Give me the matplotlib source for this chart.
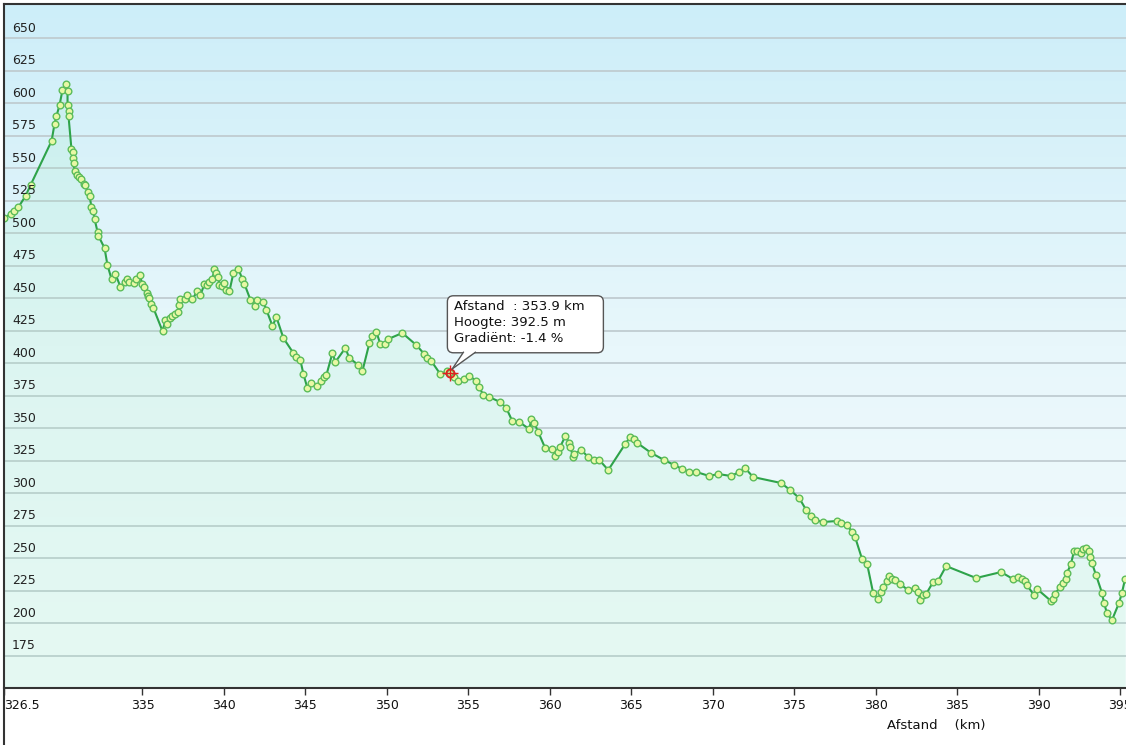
import numpy as np
import matplotlib
matplotlib.use("Agg")
import matplotlib.pyplot as plt
import matplotlib.colors as mcolors
from matplotlib.lines import Line2D
from matplotlib.patches import FancyBboxPatch, Polygon

# distance (km) and height (m)
afstand = [326.50, 326.90, 327.09, 327.39, 327.82, 328.13, 329.42, 329.60, 329.72, 329.91,
           330.09, 330.28, 330.40, 330.40, 330.46, 330.46, 330.64, 330.71, 330.71, 330.77,
           330.83, 331.01, 331.13, 331.20, 331.38, 331.50, 331.63, 331.75, 331.87, 331.99,
           332.06, 332.24, 332.30, 332.67, 332.85, 333.10, 333.34, 333.65, 333.90, 334.08,
           334.20, 334.51, 334.63, 334.82, 335.00, 335.12, 335.25, 335.31, 335.43, 335.55,
           335.67, 336.23, 336.41, 336.53, 336.72, 336.84, 337.02, 337.21, 337.27, 337.33,
           337.58, 337.76, 338.07, 338.37, 338.56, 338.80, 338.99, 339.11, 339.29, 339.42,
           339.54, 339.66, 339.72, 339.91, 340.03, 340.15, 340.34, 340.58, 340.89, 341.13,
           341.26, 341.63, 341.93, 342.06, 342.42, 342.61, 342.98, 343.22, 343.65, 344.26,
           344.45, 344.69, 344.88, 345.12, 345.37, 345.74, 345.98, 346.17, 346.29, 346.66,
           346.84, 347.45, 347.70, 348.25, 348.50, 348.93, 349.11, 349.36, 349.60, 349.91,
           350.09, 350.95, 351.81, 352.30, 352.48, 352.73, 353.28, 353.71, 353.90, 354.14,
           354.39, 354.75, 355.06, 355.49, 355.67, 355.92, 356.29, 356.96, 357.33, 357.70,
           358.13, 358.74, 358.87, 359.05, 359.29, 359.72, 360.15, 360.34, 360.52, 360.64,
           360.95, 361.20, 361.26, 361.44, 361.50, 361.93, 362.36, 362.73, 363.04, 363.59,
           364.63, 364.94, 365.18, 365.37, 366.23, 367.02, 367.64, 368.13, 368.56, 368.99,
           369.79, 370.34, 371.13, 371.63, 371.99, 372.48, 374.20, 374.75, 375.31, 375.74,
           376.04, 376.29, 376.78, 377.64, 377.88, 378.25, 378.56, 378.74, 379.17, 379.48,
           379.85, 380.15, 380.34, 380.46, 380.71, 380.83, 381.01, 381.20, 381.50, 381.99,
           382.42, 382.61, 382.73, 382.91, 383.10, 383.53, 383.83, 384.33, 386.17, 387.70,
           388.44, 388.74, 388.99, 389.17, 389.29, 389.72, 389.91, 390.77, 390.89, 391.01,
           391.32, 391.50, 391.69, 391.75, 391.99, 392.18, 392.36, 392.61, 392.73, 392.91,
           393.10, 393.16, 393.28, 393.53, 393.90, 394.02, 394.20, 394.51, 394.94, 395.12,
           395.31]
hoogte = [511.5, 514.6, 516.9, 520.0, 528.5, 536.9, 570.8, 583.8, 590.0, 598.5,
          610.0, 614.6, 609.2, 598.5, 593.8, 590.0, 564.6, 562.3, 557.7, 553.8,
          547.7, 544.6, 543.1, 541.5, 537.7, 536.9, 531.5, 528.5, 520.0, 516.9,
          510.8, 500.8, 497.7, 488.5, 475.4, 464.6, 468.5, 458.5, 462.3, 464.6,
          462.3, 461.5, 464.6, 467.7, 460.8, 458.5, 453.8, 451.5, 450.0, 445.4,
          442.3, 424.6, 433.1, 430.0, 434.6, 436.2, 437.7, 439.2, 444.6, 449.2,
          449.2, 452.3, 449.2, 455.4, 452.3, 460.8, 460.0, 462.3, 464.6, 472.3,
          469.2, 466.2, 460.0, 459.2, 461.5, 456.2, 455.4, 469.2, 472.3, 464.6,
          460.8, 448.5, 443.8, 448.5, 446.9, 440.8, 428.5, 435.4, 419.2, 407.7,
          404.6, 402.3, 391.5, 380.8, 384.6, 382.3, 386.2, 389.2, 390.8, 407.7,
          400.8, 411.5, 403.8, 398.5, 393.8, 415.4, 420.8, 423.8, 414.6, 414.6,
          418.5, 423.1, 413.8, 406.9, 403.8, 401.5, 391.5, 393.8, 392.5, 389.2,
          386.2, 387.7, 390.0, 386.2, 381.5, 375.4, 373.8, 370.0, 365.4, 355.4,
          354.6, 349.2, 356.9, 353.8, 346.9, 334.6, 333.8, 328.5, 331.5, 335.4,
          343.8, 338.5, 335.4, 327.7, 330.0, 333.1, 327.7, 325.4, 325.4, 317.7,
          337.7, 343.1, 341.5, 338.5, 330.8, 325.4, 321.5, 318.5, 316.2, 316.2,
          313.1, 314.6, 313.1, 316.2, 319.2, 312.3, 307.7, 302.3, 296.2, 286.9,
          282.3, 279.2, 277.7, 278.5, 276.9, 275.4, 270.0, 266.2, 249.2, 245.4,
          223.1, 218.5, 223.8, 227.7, 232.3, 236.2, 233.8, 233.1, 230.0, 225.4,
          226.9, 223.8, 217.7, 221.5, 222.3, 231.5, 232.3, 243.8, 234.6, 239.2,
          233.8, 235.4, 233.8, 232.3, 229.2, 221.5, 226.2, 216.9, 218.5, 222.3,
          227.7, 230.8, 233.8, 238.5, 245.4, 255.4, 255.4, 253.8, 256.9, 257.7,
          255.4, 250.8, 246.2, 236.9, 223.1, 215.4, 207.7, 202.3, 215.4, 223.1,
          233.8]

x_ticks = [326.5, 335, 340, 345, 350, 355, 360, 365, 370, 375, 380, 385, 390, 395]
y_ticks = [175, 200, 225, 250, 275, 300, 325, 350, 375, 400, 425, 450, 475, 500,
           525, 550, 575, 600, 625, 650]
tip_km, tip_m, tip_grad = 353.9, 392.5, -1.4

W, H = 1126, 745
fig = plt.figure(figsize=(W / 100, H / 100), dpi=100)
fig.patch.set_facecolor("white")
ax = fig.add_axes([4 / W, (H - 688) / H, (W - 4) / W, (688 - 4) / H])
xmin, xmax = 326.5, 395.37
ymin, ymax = 150, 676.2

# background gradient, light blue on top to nearly white at the bottom
bg = mcolors.LinearSegmentedColormap.from_list("bg", ["#f3fbfd", "#e8f7fb", "#cdeef9"])
grad = np.linspace(0, 1, 256).reshape(-1, 1)
ax.imshow(grad, cmap=bg, aspect="auto", origin="lower",
          extent=[xmin, xmax, ymin, ymax], zorder=0)

for v in y_ticks:
    ax.axhline(v, color="#c0ccd1", lw=1.3, zorder=1)
    ax.text(8 / (W - 4), v + 7.5, str(v), transform=ax.get_yaxis_transform(),
            ha="left", va="center", fontsize=9, color="#222222", zorder=5)

ax.fill_between(afstand, hoogte, ymin, color="#95eeb8", alpha=0.14, lw=0, zorder=2)
ax.plot(afstand, hoogte, color="#2ea34a", lw=1.5, zorder=3,
        marker="o", ms=4.8, mfc="#e8f8a4", mec="#5cbc5a", mew=1.0)

ax.set_xlim(xmin, xmax)
ax.set_ylim(ymin, ymax)
ax.set_xticks(x_ticks)
ax.set_xticklabels([("%g" % t) for t in x_ticks], fontsize=9, color="#111111")
ax.get_xticklabels()[0].set_horizontalalignment("left")
ax.tick_params(axis="x", direction="out", length=5, width=1, color="#333333", pad=3)
ax.set_yticks([])
for s in ["top", "right", "left"]:
    ax.spines[s].set_visible(False)
ax.spines["bottom"].set_color("#333333")
ax.spines["bottom"].set_linewidth(1.5)

# selected point with tooltip
ax.plot([tip_km], [tip_m], marker="o", ms=6, mfc="none", mec="#e02020", mew=1.2, zorder=6)
ax.plot([tip_km], [tip_m], marker="+", ms=11, mec="#e02020", mew=1.0, zorder=6)

px, py = ax.transData.transform((tip_km, tip_m))
bx0, bx1 = px - 3, px + 153
by0, by1 = py + 20, py + 77
box = FancyBboxPatch((bx0, by0), bx1 - bx0, by1 - by0, transform=None,
                     boxstyle="round,pad=0,rounding_size=6",
                     fc="white", ec="#555555", lw=1.0, zorder=7)
fig.add_artist(box)
pointer = Polygon([(px + 2, py + 4), (px + 13, by0 + 0.8), (px + 25, by0 + 0.8)],
                  closed=True, transform=None, fc="white", ec="none", zorder=8)
fig.add_artist(pointer)
fig.add_artist(Line2D([px + 2, px + 13], [py + 4, by0 + 0.5], transform=None,
                      color="#555555", lw=1.0, zorder=9))
fig.add_artist(Line2D([px + 2, px + 25], [py + 4, by0 + 0.5], transform=None,
                      color="#555555", lw=1.0, zorder=9))
tip_lines = ["Afstand  : %.1f km" % tip_km, "Hoogte: %.1f m" % tip_m,
             "Gradiënt: %.1f %%" % tip_grad]
for i, t in enumerate(tip_lines):
    fig.text((bx0 + 7) / W, (by1 - 11 - 16 * i) / H, t, ha="left", va="center",
             fontsize=9.5, color="#111111", zorder=10)

# frame lines on the top and left of the picture
fig.add_artist(Line2D([4 / W, 4 / W], [0, 1 - 4 / H], color="#333333", lw=1.5))
fig.add_artist(Line2D([4 / W, 1], [1 - 4 / H, 1 - 4 / H], color="#333333", lw=1.5))

fig.text(887 / W, 1 - 726 / H, "Afstand    (km)", ha="left", va="center",
         fontsize=9.5, color="#111111")

fig.savefig("out.png", dpi=100)
